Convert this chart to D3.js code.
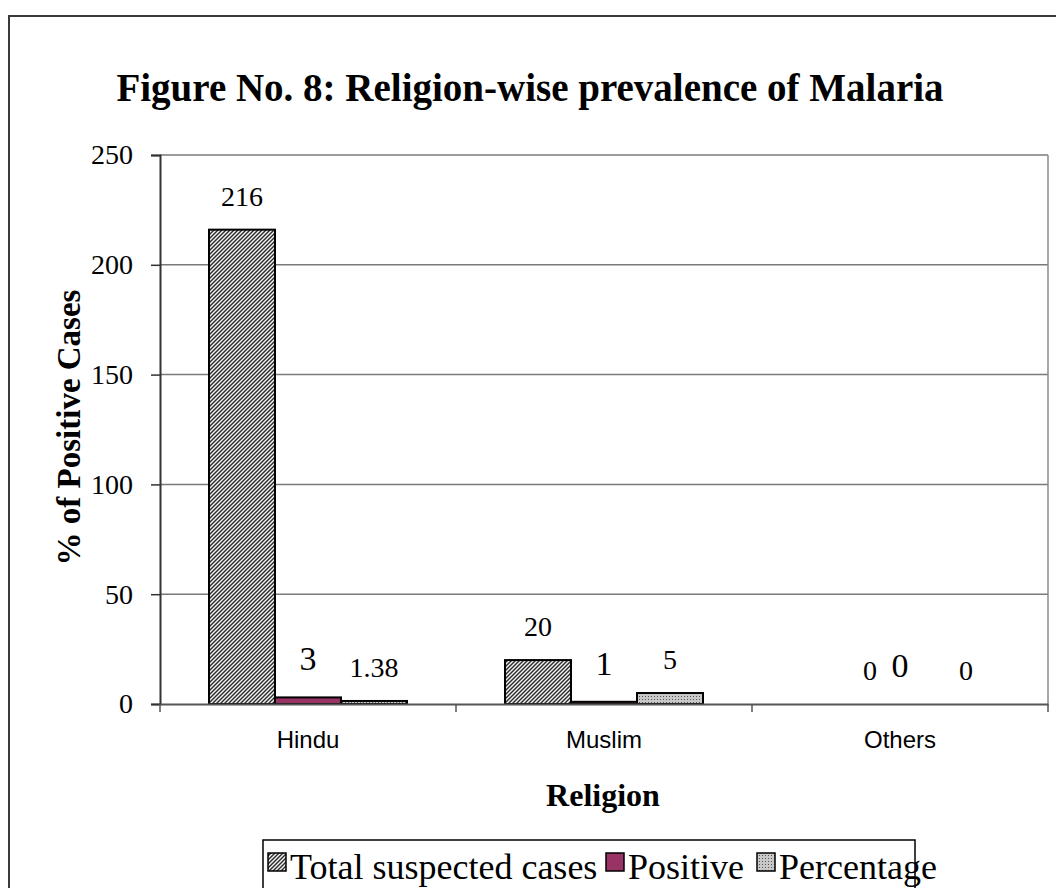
<!DOCTYPE html>
<html>
<head>
<meta charset="utf-8">
<script src="https://cdn.jsdelivr.net/npm/d3@7/dist/d3.min.js"></script>
<style>
  html, body { margin: 0; padding: 0; background: #fff; }
  svg { display: block; }
</style>
</head>
<body>
<svg id="chart" width="1056" height="888"></svg>
<script>
// Religion-wise prevalence data
const religions = ["Hindu", "Muslim", "Others"];
const seriesNames = ["Total suspected cases", "Positive", "Percentage"];
const totalSuspected = [216, 20, 0];
const positive = [3, 1, 0];
const percentage = [1.38, 5, 0];
const percentageLabels = ["1.38", "5", "0"];
const yTicks = [0, 50, 100, 150, 200, 250];

const seriesValues = [totalSuspected, positive, percentage];
const seriesLabels = [
  totalSuspected.map(String),
  positive.map(String),
  percentageLabels
];

const svg = d3.select("#chart");
const serif = "'Liberation Serif', 'Times New Roman', serif";
const sans = "'Liberation Sans', Arial, sans-serif";

// fills: hatched, solid plum, dotted grey
const defs = svg.append("defs");
const hatch = defs.append("pattern").attr("id", "hatch")
  .attr("patternUnits", "userSpaceOnUse").attr("width", 4).attr("height", 4);
hatch.append("rect").attr("width", 4).attr("height", 4).attr("fill", "#f2f2f2");
hatch.append("path").attr("d", "M-1,1 l2,-2 M0,4 l4,-4 M3,5 l2,-2")
  .attr("stroke", "#2a2a2a").attr("stroke-width", 1.4);

const dots = defs.append("pattern").attr("id", "dots")
  .attr("patternUnits", "userSpaceOnUse").attr("width", 3).attr("height", 3);
dots.append("rect").attr("width", 3).attr("height", 3).attr("fill", "#c8c8c8");
dots.append("rect").attr("width", 1).attr("height", 1).attr("fill", "#555");

const fills = ["url(#hatch)", "#993366", "url(#dots)"];

// outer frame
svg.append("path")
  .attr("d", "M9,900 V16 H1070")
  .attr("fill", "none").attr("stroke", "#3a3a3a").attr("stroke-width", 2);

// plot geometry
const plot = { left: 160, right: 1048, top: 155, bottom: 704 };

const x = d3.scaleBand().domain(religions).range([plot.left, plot.right]).padding(0);
const xInner = d3.scaleBand().domain(seriesNames)
  .range([49, 49 + 198]).padding(0);
const y = d3.scaleLinear().domain([0, 250]).range([plot.bottom, plot.top]);

// gridlines
svg.append("g").selectAll("line").data(yTicks.filter(d => d > 0)).join("line")
  .attr("x1", plot.left).attr("x2", plot.right)
  .attr("y1", d => y(d)).attr("y2", d => y(d))
  .attr("stroke", "#7a7a7a").attr("stroke-width", 1.5);

// right border of plot area
svg.append("line")
  .attr("x1", plot.right).attr("x2", plot.right)
  .attr("y1", plot.top).attr("y2", plot.bottom)
  .attr("stroke", "#8a8a8a").attr("stroke-width", 1.5);

// y axis
const yAxis = svg.append("g").attr("transform", `translate(${plot.left},0)`)
  .call(d3.axisLeft(y).tickValues(yTicks).tickSize(9).tickPadding(18).tickFormat(d3.format("d")));
yAxis.select(".domain").attr("stroke", "#333").attr("stroke-width", 2);
yAxis.selectAll(".tick line").attr("stroke", "#333").attr("stroke-width", 1.5);
yAxis.selectAll(".tick text").attr("font-family", serif).attr("font-size", 28)
  .attr("fill", "#000");

// bars
const bars = svg.append("g");
religions.forEach((r, i) => {
  seriesNames.forEach((s, j) => {
    const v = seriesValues[j][i];
    if (v > 0) {
      bars.append("rect")
        .attr("x", x(r) + xInner(s))
        .attr("y", y(v))
        .attr("width", xInner.bandwidth())
        .attr("height", y(0) - y(v))
        .attr("fill", fills[j])
        .attr("stroke", "#000").attr("stroke-width", 2);
    }
  });
});

// x axis
const xAxis = svg.append("g").attr("transform", `translate(0,${plot.bottom})`)
  .call(d3.axisBottom(x).tickSize(0).tickPadding(27));
xAxis.select(".domain").attr("stroke", "#555").attr("stroke-width", 2);
xAxis.selectAll(".tick text").attr("font-family", sans).attr("font-size", 24)
  .attr("fill", "#000");
// category boundary ticks
svg.append("g").selectAll("line")
  .data(religions.map(r => x(r)).concat([plot.right]))
  .join("line")
  .attr("x1", d => d).attr("x2", d => d)
  .attr("y1", plot.bottom).attr("y2", plot.bottom + 8)
  .attr("stroke", "#555").attr("stroke-width", 1.5);

// data labels
const labelSize = [28, 34, 28];
const labelGap = [24, 27, 24];
// the first zero label of "Others" sits nudged to the right
const labelShift = (i, j) => (i === 2 && j === 0 ? 36 : 0);
const labels = svg.append("g").attr("font-family", serif).attr("text-anchor", "middle");
religions.forEach((r, i) => {
  seriesNames.forEach((s, j) => {
    const v = seriesValues[j][i];
    labels.append("text")
      .attr("x", x(r) + xInner(s) + xInner.bandwidth() / 2 + labelShift(i, j))
      .attr("y", y(v) - labelGap[j])
      .attr("font-size", labelSize[j])
      .attr("fill", "#000")
      .text(seriesLabels[j][i]);
  });
});

// titles
svg.append("text")
  .attr("x", 530).attr("y", 101)
  .attr("text-anchor", "middle")
  .attr("font-family", serif).attr("font-weight", "bold").attr("font-size", 39)
  .text("Figure No. 8: Religion-wise prevalence of Malaria");

svg.append("text")
  .attr("x", 603).attr("y", 806)
  .attr("text-anchor", "middle")
  .attr("font-family", serif).attr("font-weight", "bold").attr("font-size", 32)
  .text("Religion");

svg.append("text")
  .attr("transform", `translate(80,${(plot.top + plot.bottom) / 2 - 2}) rotate(-90)`)
  .attr("text-anchor", "middle")
  .attr("font-family", serif).attr("font-weight", "bold").attr("font-size", 33)
  .text("% of Positive Cases");

// legend
const legend = svg.append("g");
legend.append("rect")
  .attr("x", 263).attr("y", 840).attr("width", 652).attr("height", 80)
  .attr("fill", "#fff").attr("stroke", "#000").attr("stroke-width", 1.5);
const legendX = [268, 606, 757];
seriesNames.forEach((s, j) => {
  legend.append("rect")
    .attr("x", legendX[j]).attr("y", 853).attr("width", 18).attr("height", 18)
    .attr("fill", fills[j]).attr("stroke", "#000").attr("stroke-width", 1.5);
  legend.append("text")
    .attr("x", legendX[j] + 22).attr("y", 879)
    .attr("font-family", serif).attr("font-size", 36)
    .text(s);
});
</script>
</body>
</html>
